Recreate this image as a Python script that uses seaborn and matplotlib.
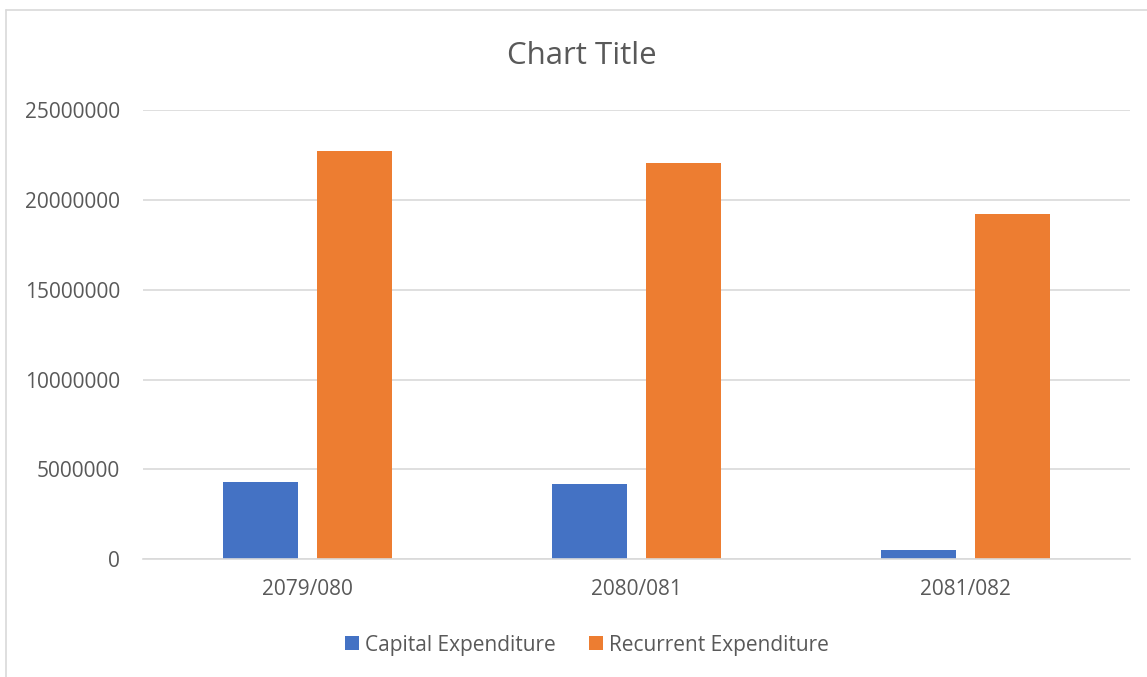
import matplotlib
matplotlib.use("Agg")
import matplotlib.pyplot as plt
import seaborn as sns
import pandas as pd
from matplotlib.lines import Line2D
from matplotlib.patches import Patch

categories = ["2079/080", "2080/081", "2081/082"]
capital = [4290000, 4200000, 500000]
recurrent = [22730000, 22030000, 19200000]
series_names = ["Capital Expenditure", "Recurrent Expenditure"]
colors = ["#4472C4", "#ED7D31"]
yticks = [0, 5000000, 10000000, 15000000, 20000000, 25000000]

df = pd.DataFrame({
    "year": categories * 2,
    "value": capital + recurrent,
    "series": [series_names[0]] * 3 + [series_names[1]] * 3,
})

sns.set_theme(style="white")
plt.rcParams["font.family"] = ["Open Sans", "DejaVu Sans"]

fig = plt.figure(figsize=(11.47, 6.77), dpi=100)
ax = fig.add_axes([143 / 1147, 1 - 559.3 / 677, (1130 - 143) / 1147, (559.3 - 110) / 677])

sns.barplot(data=df, x="year", y="value", hue="series", palette=colors,
            width=0.572, gap=0.21, ax=ax, legend=False, saturation=1,
            edgecolor="none")

ax.set_ylim(0, 25000000)
ax.set_xlim(-0.5, 2.5)
ax.set_yticks(yticks)
ax.set_yticklabels([str(v) for v in yticks])
ax.yaxis.grid(True, color="#d9d9d9", linewidth=1.2)
ax.set_axisbelow(True)
for s in ["top", "right", "left"]:
    ax.spines[s].set_visible(False)
ax.spines["bottom"].set_color("#d9d9d9")
ax.spines["bottom"].set_linewidth(1.2)
ax.tick_params(axis="both", length=0, labelsize=15, colors="#595959")
ax.tick_params(axis="y", pad=16.5)
ax.tick_params(axis="x", pad=14)
ax.set_xlabel("")
ax.set_ylabel("")

fig.text(582 / 1147, 1 - 56 / 677, "Chart Title", ha="center", va="center",
         fontsize=22.5, color="#595959")

handles = [Patch(facecolor=c, edgecolor="none") for c in colors]
fig.legend(handles, series_names, loc="center", bbox_to_anchor=(587 / 1147, 1 - 645 / 677),
           ncol=2, frameon=False, fontsize=15, handlelength=0.65, handleheight=0.65,
           handletextpad=0.3, columnspacing=1.6, labelcolor="#595959")

# outer chart border
fig.add_artist(Line2D([6 / 1147, 6 / 1147], [0, 1 - 10 / 677], transform=fig.transFigure,
                      color="#d9d9d9", linewidth=1.2))
fig.add_artist(Line2D([6 / 1147, 1], [1 - 10 / 677, 1 - 10 / 677], transform=fig.transFigure,
                      color="#d9d9d9", linewidth=1.2))

fig.savefig("out.png", dpi=100, facecolor="white")
